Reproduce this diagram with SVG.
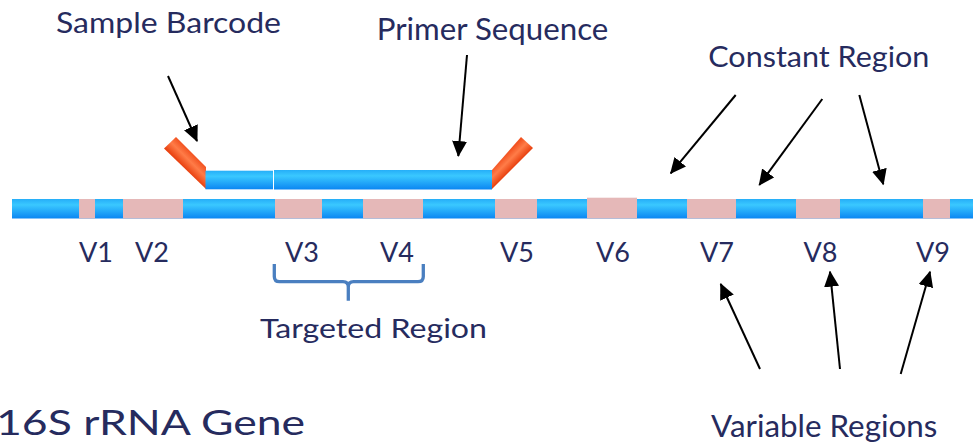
<svg xmlns="http://www.w3.org/2000/svg" width="973" height="443" viewBox="0 0 973 443">
  <defs>
    <linearGradient id="blueGrad" x1="0" y1="0" x2="0" y2="1">
      <stop offset="0" stop-color="#26aef8"/>
      <stop offset="0.3" stop-color="#3ac8ff"/>
      <stop offset="1" stop-color="#0b86f2"/>
    </linearGradient>
    <linearGradient id="orangeL" gradientUnits="userSpaceOnUse" x1="185" y1="168.8" x2="196.4" y2="157.4">
      <stop offset="0" stop-color="#e8400f"/>
      <stop offset="0.55" stop-color="#ff7c48"/>
      <stop offset="1" stop-color="#f25220"/>
    </linearGradient>
    <linearGradient id="orangeR" gradientUnits="userSpaceOnUse" x1="506" y1="154" x2="516.5" y2="164.5">
      <stop offset="0" stop-color="#f25220"/>
      <stop offset="0.45" stop-color="#ff7c48"/>
      <stop offset="1" stop-color="#e8400f"/>
    </linearGradient>
    <marker id="arrow" markerUnits="userSpaceOnUse" markerWidth="17" markerHeight="16" refX="15" refY="7.5" orient="auto">
      <path d="M0,0 L16,7.5 L0,15 z" fill="#000"/>
    </marker>
    <style>
      .lbl { font-family: "Lato", "Open Sans", "Liberation Sans", sans-serif; fill: #262b5e; }
      .blue { fill: url(#blueGrad); }
      .pink { fill: #e5b8b8; }
      .arr { stroke: #000; stroke-width: 2; fill: none; marker-end: url(#arrow); }
      .brace { stroke: #4a7fc0; stroke-width: 3.3; fill: none; stroke-linecap: butt; stroke-linejoin: round; }
    </style>
  </defs>

  <g id="gene">
    <rect class="blue" x="12" y="199" width="961" height="19.5"/>
    <rect class="pink" x="79" y="199" width="16" height="19.5"/>
    <rect class="pink" x="123" y="199" width="60" height="19.5"/>
    <rect class="pink" x="275" y="199" width="47" height="19.5"/>
    <rect class="pink" x="363" y="199" width="60" height="19.5"/>
    <rect class="pink" x="495" y="199" width="42" height="19.5"/>
    <rect class="pink" x="587" y="197.7" width="50" height="20.8"/>
    <rect class="pink" x="687" y="199" width="49" height="19.5"/>
    <rect class="pink" x="796" y="199" width="44" height="19.5"/>
    <rect class="pink" x="923" y="199" width="27" height="19.5"/>
  </g>

  <g id="primer">
    <polygon points="164,148.5 176,137 206,167 206,189" fill="url(#orangeL)"/>
    <polygon points="492,170 521,137 533,148 492,189" fill="url(#orangeR)"/>
    <rect class="blue" x="205.5" y="170.7" width="67.5" height="18.6"/>
    <rect class="blue" x="274" y="170" width="218" height="19.5"/>
  </g>

  <g id="targeted-brace">
    <path class="brace" d="M274.3,264 V276.5 Q274.3,281.7 279.5,281.7 H343 Q348.3,281.7 348.3,287 V300.7 M348.3,287 Q348.3,281.7 353.5,281.7 H418 Q423.3,281.7 423.3,276.5 V264"/>
  </g>

  <g id="connectors">
    <line class="arr" x1="168" y1="76" x2="197" y2="141"/>
    <line class="arr" x1="467" y1="55" x2="458.3" y2="156"/>
    <line class="arr" x1="735.7" y1="95" x2="670.7" y2="173.3"/>
    <line class="arr" x1="822.3" y1="99" x2="759.3" y2="185"/>
    <line class="arr" x1="859.3" y1="95" x2="883.3" y2="184.3"/>
    <line class="arr" x1="760" y1="369" x2="720.7" y2="284"/>
    <line class="arr" x1="840" y1="369" x2="830" y2="271.7"/>
    <line class="arr" x1="900.7" y1="374" x2="930" y2="271.7"/>
  </g>

  <g id="label-sample-barcode">
    <text class="lbl" x="56" y="33.3" font-size="29" textLength="225" lengthAdjust="spacingAndGlyphs">Sample Barcode</text>
  </g>
  <g id="label-primer-sequence">
    <text class="lbl" x="376.7" y="40" font-size="30" textLength="231.6" lengthAdjust="spacingAndGlyphs">Primer Sequence</text>
  </g>
  <g id="label-constant-region">
    <text class="lbl" x="708.3" y="67.3" font-size="29" textLength="221" lengthAdjust="spacingAndGlyphs">Constant Region</text>
  </g>
  <g id="label-targeted-region">
    <text class="lbl" x="260" y="338" font-size="27.5" textLength="227" lengthAdjust="spacingAndGlyphs">Targeted Region</text>
  </g>
  <g id="label-variable-regions">
    <text class="lbl" x="711" y="437.3" font-size="30" textLength="226.3" lengthAdjust="spacingAndGlyphs">Variable Regions</text>
  </g>
  <g id="label-16s">
    <text class="lbl" x="-4" y="435" font-size="34" textLength="309" lengthAdjust="spacingAndGlyphs">16S rRNA Gene</text>
  </g>

  <g id="v-labels" font-size="27" text-anchor="middle">
    <text class="lbl" x="96" y="262.3">V1</text>
    <text class="lbl" x="152" y="262.3">V2</text>
    <text class="lbl" x="302" y="262.3">V3</text>
    <text class="lbl" x="397" y="262.3">V4</text>
    <text class="lbl" x="517" y="262.3">V5</text>
    <text class="lbl" x="613" y="262.3">V6</text>
    <text class="lbl" x="717" y="262.3">V7</text>
    <text class="lbl" x="820.5" y="262.3">V8</text>
    <text class="lbl" x="933" y="262.3">V9</text>
  </g>
</svg>
